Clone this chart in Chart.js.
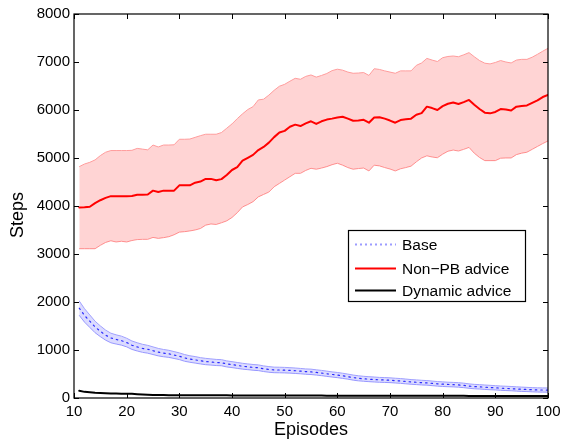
<!DOCTYPE html>
<html>
<head>
<meta charset="utf-8">
<script src="https://cdn.jsdelivr.net/npm/chart.js@4.4.1/dist/chart.umd.min.js"></script>
<style>
  html, body { margin: 0; padding: 0; background: #fff; }
  #wrap { width: 562px; height: 441px; }
</style>
</head>
<body>
<div id="wrap"><canvas id="stepsChart" width="562" height="441"></canvas></div>
<script>
// ========== DATA (episodes 11..100) ==========
const episodes = Array.from({ length: 90 }, (_, i) => i + 11);

const xTicks = [10, 20, 30, 40, 50, 60, 70, 80, 90, 100];
const yTicks = [0, 1000, 2000, 3000, 4000, 5000, 6000, 7000, 8000];

const seriesNames = ['Base', 'Non\u2212PB advice', 'Dynamic advice'];

// Non-PB advice: mean and shaded band edges
const nonPbMean = [
  3970, 3975, 3985, 4060, 4120, 4170, 4205, 4205, 4205, 4205,
  4210, 4235, 4235, 4240, 4320, 4290, 4320, 4320, 4320, 4430,
  4430, 4430, 4485, 4510, 4565, 4565, 4535, 4560, 4645, 4750,
  4810, 4945, 5005, 5065, 5165, 5230, 5320, 5435, 5530, 5565,
  5650, 5695, 5665, 5720, 5765, 5710, 5765, 5800, 5820, 5845,
  5860, 5820, 5775, 5780, 5795, 5735, 5845, 5850, 5820, 5780,
  5735, 5790, 5805, 5820, 5900, 5935, 6070, 6040, 6000, 6080,
  6130, 6155, 6125, 6165, 6210, 6110, 6020, 5945, 5930, 5960,
  6020, 6010, 5990, 6070, 6085, 6095, 6150, 6200, 6270, 6315
];
const nonPbUpper = [
  4820, 4875, 4910, 4960, 5050, 5120, 5155, 5155, 5155, 5155,
  5160, 5200, 5185, 5170, 5270, 5230, 5270, 5270, 5275, 5390,
  5390, 5395, 5430, 5465, 5495, 5495, 5495, 5530, 5620, 5710,
  5820, 5920, 6010, 6070, 6210, 6225, 6310, 6410, 6495, 6535,
  6600, 6660, 6640, 6700, 6730, 6685, 6720, 6760, 6820, 6850,
  6830, 6790, 6765, 6770, 6780, 6720, 6860, 6845, 6815, 6790,
  6765, 6815, 6815, 6815, 6930, 6980, 7075, 7040, 7010, 7090,
  7115, 7125, 7110, 7150, 7195, 7110, 7030, 6975, 6960, 6990,
  7030, 7000, 6980, 7040, 7055, 7055, 7100, 7160, 7225, 7285
];
const nonPbLower = [
  3110, 3110, 3110, 3110, 3180, 3240, 3275, 3250, 3265, 3250,
  3280, 3300, 3305, 3305, 3345, 3325, 3340, 3360, 3400, 3455,
  3465, 3480, 3500, 3530, 3600, 3625, 3615, 3650, 3690, 3760,
  3860, 3980, 4030, 4090, 4190, 4240, 4290, 4400, 4470, 4540,
  4610, 4680, 4680, 4740, 4785, 4765, 4790, 4820, 4860, 4890,
  4850, 4800, 4765, 4780, 4790, 4730, 4850, 4835, 4800, 4770,
  4730, 4775, 4800, 4830, 4920, 5000, 5045, 5020, 5005, 5080,
  5140, 5165, 5145, 5180, 5220, 5100, 5010, 4945, 4945, 4945,
  4995, 5000, 5000, 5070, 5100, 5120, 5180, 5240, 5300, 5355
];

// Base: mean and half-width of its band
const baseMean = [
  1870, 1720, 1600, 1480, 1390, 1310, 1250, 1220, 1195, 1155,
  1100, 1065, 1035, 1015, 985, 955, 935, 920, 895, 870,
  835, 812, 795, 775, 760, 750, 740, 735, 710, 695,
  678, 662, 650, 638, 630, 610, 595, 585, 583, 580,
  575, 568, 560, 550, 545, 532, 520, 505, 490, 478,
  462, 445, 425, 410, 400, 392, 385, 378, 375, 370,
  362, 355, 345, 335, 328, 320, 315, 305, 295, 288,
  282, 278, 272, 262, 248, 238, 232, 225, 218, 212,
  205, 200, 195, 188, 182, 178, 172, 168, 166, 165
];
const baseSpread = [
  150, 140, 130, 120, 112, 105, 100, 96, 94, 90,
  88, 86, 84, 82, 80, 78, 76, 74, 72, 70,
  70, 68, 68, 66, 66, 65, 64, 64, 63, 62,
  62, 61, 60, 60, 60, 59, 59, 58, 58, 58,
  57, 57, 56, 56, 56, 55, 55, 55, 54, 54,
  54, 53, 53, 53, 52, 52, 52, 51, 51, 50,
  50, 50, 50, 49, 49, 49, 48, 48, 48, 48,
  47, 47, 47, 47, 46, 46, 46, 46, 46, 45,
  45, 45, 45, 45, 45, 44, 44, 44, 44, 44
];

// Dynamic advice: mean only
const dynamicMean = [
  150, 128, 118, 108, 102, 98, 95, 92, 90, 88,
  86, 80, 72, 66, 62, 60, 60, 59, 58, 58,
  58, 57, 57, 56, 56, 56, 55, 55, 55, 54,
  54, 54, 53, 53, 53, 52, 52, 52, 52, 51,
  51, 51, 50, 50, 50, 50, 50, 49, 49, 49,
  49, 48, 48, 48, 48, 48, 47, 47, 47, 47,
  47, 46, 46, 46, 46, 46, 46, 45, 45, 45,
  45, 45, 45, 45, 44, 44, 44, 44, 44, 44,
  44, 43, 43, 43, 43, 43, 43, 42, 42, 42
];

// ========== HELPERS ==========
const FONT = "'Liberation Sans', Arial, Helvetica, sans-serif";

function toPoints(values) {
  return episodes.map((ep, i) => ({ x: ep, y: values[i] }));
}

const baseUpper = baseMean.map((v, i) => v + baseSpread[i]);
const baseLower = baseMean.map((v, i) => v - baseSpread[i]);

// frame, inside ticks (matlab style), y title and boxed legend
const framePlugin = {
  id: 'frame',
  afterDraw(chart) {
    const { ctx, chartArea: a, scales } = chart;
    const xs = scales.x, ys = scales.y;
    ctx.save();
    ctx.strokeStyle = '#000';
    ctx.lineWidth = 1.2;
    ctx.strokeRect(a.left, a.top, a.right - a.left, a.bottom - a.top);

    ctx.lineWidth = 1;
    ctx.beginPath();
    xTicks.forEach(v => {
      const px = Math.round(xs.getPixelForValue(v)) + 0.5;
      ctx.moveTo(px, a.bottom); ctx.lineTo(px, a.bottom - 5);
      ctx.moveTo(px, a.top); ctx.lineTo(px, a.top + 5);
    });
    yTicks.forEach(v => {
      const py = Math.round(ys.getPixelForValue(v)) + 0.5;
      ctx.moveTo(a.left, py); ctx.lineTo(a.left + 5, py);
      ctx.moveTo(a.right, py); ctx.lineTo(a.right - 5, py);
    });
    ctx.stroke();

    // y axis title, sits a little below the middle like in the figure
    ctx.save();
    ctx.translate(18, 215);
    ctx.rotate(-Math.PI / 2);
    ctx.font = '18px ' + FONT;
    ctx.fillStyle = '#000';
    ctx.textAlign = 'center';
    ctx.textBaseline = 'middle';
    ctx.fillText('Steps', 0, 0);
    ctx.restore();

    // legend box
    const box = { x: 348.5, y: 230.5, w: 177, h: 71 };
    ctx.fillStyle = '#fff';
    ctx.fillRect(box.x, box.y, box.w, box.h);
    ctx.strokeStyle = '#000';
    ctx.lineWidth = 1.2;
    ctx.strokeRect(box.x, box.y, box.w, box.h);

    const rows = [
      { y: 244.5, color: '#9c9cff', dash: [2, 3], width: 2 },
      { y: 268.5, color: '#ff0000', dash: [], width: 2 },
      { y: 290.5, color: '#000000', dash: [], width: 2 }
    ];
    ctx.font = '15.5px ' + FONT;
    ctx.textBaseline = 'middle';
    ctx.textAlign = 'left';
    rows.forEach((r, i) => {
      ctx.beginPath();
      ctx.setLineDash(r.dash);
      ctx.strokeStyle = r.color;
      ctx.lineWidth = r.width;
      ctx.moveTo(355, r.y); ctx.lineTo(396, r.y);
      ctx.stroke();
      ctx.setLineDash([]);
      ctx.fillStyle = '#000';
      ctx.fillText(seriesNames[i], 402, r.y + 1);
    });
    ctx.restore();
  }
};

// ========== CHART ==========
const ctx = document.getElementById('stepsChart');

window.stepsChart = new Chart(ctx, {
  type: 'line',
  data: {
    datasets: [
      {
        label: 'nonpb upper',
        data: toPoints(nonPbUpper),
        borderColor: '#ff9c9c',
        borderWidth: 1,
        backgroundColor: 'rgba(255, 0, 0, 0.17)',
        fill: '+1',
        order: 3
      },
      {
        label: 'nonpb lower',
        data: toPoints(nonPbLower),
        borderColor: '#ff9c9c',
        borderWidth: 1,
        fill: false,
        order: 3
      },
      {
        label: seriesNames[1],
        data: toPoints(nonPbMean),
        borderColor: '#ff0000',
        borderWidth: 2,
        fill: false,
        order: 1
      },
      {
        label: 'base upper',
        data: toPoints(baseUpper),
        borderColor: '#a0a0ff',
        borderWidth: 1,
        backgroundColor: 'rgba(90, 90, 255, 0.22)',
        fill: '+1',
        order: 3
      },
      {
        label: 'base lower',
        data: toPoints(baseLower),
        borderColor: '#a0a0ff',
        borderWidth: 1,
        fill: false,
        order: 3
      },
      {
        label: seriesNames[0],
        data: toPoints(baseMean),
        borderColor: '#2a2aff',
        borderWidth: 1.2,
        borderDash: [1.5, 4],
        fill: false,
        order: 1
      },
      {
        label: seriesNames[2],
        data: toPoints(dynamicMean),
        borderColor: '#000000',
        borderWidth: 2,
        fill: false,
        order: 0
      }
    ]
  },
  options: {
    responsive: false,
    animation: false,
    events: [],
    elements: {
      point: { radius: 0 },
      line: { tension: 0, borderCapStyle: 'round', borderJoinStyle: 'round' }
    },
    layout: { padding: { top: 14, right: 14, left: 0, bottom: 0 } },
    plugins: {
      legend: { display: false },
      tooltip: { enabled: false }
    },
    scales: {
      x: {
        type: 'linear',
        min: 10,
        max: 100,
        afterFit: s => { s.height = 43; s.paddingLeft = 0; s.paddingRight = 0; },
        afterBuildTicks: s => { s.ticks = xTicks.map(v => ({ value: v })); },
        grid: { display: false, drawTicks: false },
        border: { display: false },
        ticks: {
          color: '#000',
          padding: 5,
          maxRotation: 0,
          font: { family: FONT, size: 15 }
        },
        title: {
          display: true,
          text: 'Episodes',
          color: '#000',
          padding: { top: 0, bottom: 0 },
          font: { family: FONT, size: 18 }
        }
      },
      y: {
        type: 'linear',
        min: 0,
        max: 8000,
        afterFit: s => { s.width = 74; s.paddingTop = 0; s.paddingBottom = 0; },
        afterBuildTicks: s => { s.ticks = yTicks.map(v => ({ value: v })); },
        grid: { display: false, drawTicks: false },
        border: { display: false },
        ticks: {
          color: '#000',
          padding: 4,
          callback: v => String(v),
          font: { family: FONT, size: 15 }
        },
        title: { display: false }
      }
    }
  },
  plugins: [framePlugin]
});
</script>
</body>
</html>
